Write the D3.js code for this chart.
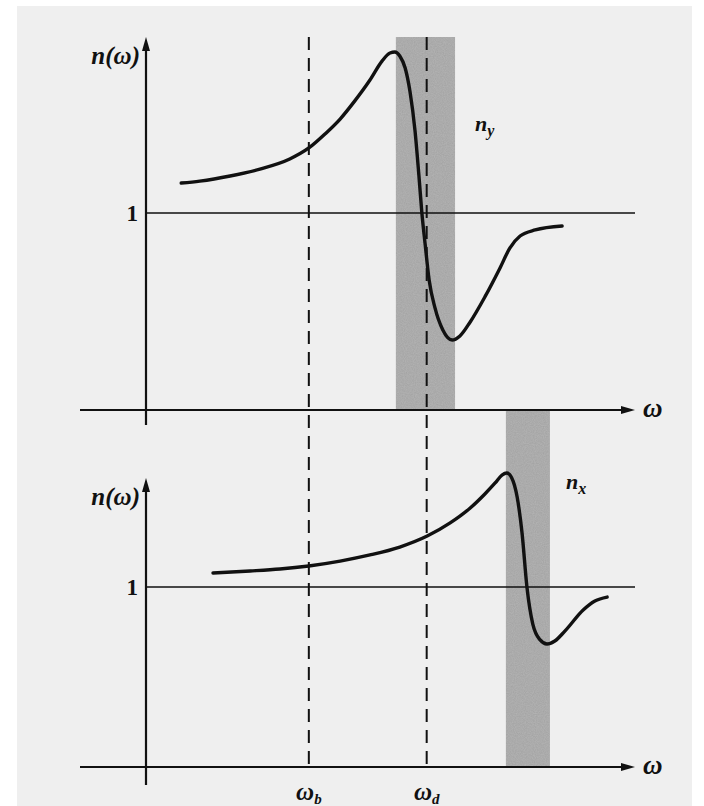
<!DOCTYPE html>
<html><head><meta charset="utf-8">
<script src="https://cdn.jsdelivr.net/npm/d3@7"></script>
<style>body{margin:0;background:#fff}svg{display:block}</style>
</head><body>
<script>
// ---- data (omega in arbitrary units, n relative) ----
const topCurveOmega = [0.72,1.10,1.72,2.33,2.94,3.33,3.66,3.97,4.27,4.58,4.83,4.99,5.09,5.19,5.30,5.40,5.50,5.58,5.64,5.71,5.79,5.91,6.07,6.26,6.42,6.63,6.93,7.24,7.44,7.65,7.96,8.51];
const topCurveN     = [1.152,1.162,1.188,1.223,1.274,1.330,1.401,1.477,1.569,1.675,1.772,1.812,1.817,1.797,1.736,1.614,1.421,1.193,1.005,0.838,0.660,0.518,0.406,0.355,0.376,0.447,0.574,0.721,0.822,0.883,0.914,0.934];
const botCurveOmega = [1.37,2.13,2.74,3.33,3.97,4.58,5.19,5.75,6.22,6.63,6.93,7.14,7.28,7.38,7.48,7.59,7.69,7.79,7.91,8.06,8.20,8.36,8.57,8.94,9.18,9.43];
const botCurveN     = [1.078,1.089,1.100,1.117,1.144,1.178,1.222,1.283,1.356,1.439,1.517,1.578,1.622,1.633,1.606,1.500,1.300,1.000,0.794,0.706,0.683,0.700,0.756,0.872,0.922,0.944];
const topBand = [5.11, 6.32];
const botBand = [7.36, 8.26];
const markers = [{name:"b", omega:3.33},{name:"d", omega:5.74}];
const panelLabels = ["y","x"];

const W=704,H=806;
const svg=d3.select("body").append("svg").attr("width",W).attr("height",H);
const defs=svg.append("defs");
const f=defs.append("filter").attr("id","grain").attr("x",0).attr("y",0).attr("width",1).attr("height",1);
f.append("feTurbulence").attr("type","fractalNoise").attr("baseFrequency",0.9).attr("numOctaves",2).attr("seed",3).attr("result","n");
f.append("feColorMatrix").attr("in","n").attr("type","matrix")
  .attr("values","0 0 0 0 0.64  0 0 0 0 0.64  0 0 0 0 0.64  0 0 0 0.35 0").attr("result","g");
f.append("feComposite").attr("in","g").attr("in2","SourceGraphic").attr("operator","in").attr("result","gc");
const fm=f.append("feMerge"); fm.append("feMergeNode").attr("in","SourceGraphic"); fm.append("feMergeNode").attr("in","gc");

svg.append("rect").attr("x",17).attr("y",6).attr("width",675).attr("height",800).attr("fill","#efefef");

const x=d3.scaleLinear().domain([0,10]).range([146,635]);
const yTop=d3.scaleLinear().domain([0,1]).range([410,213]);
const yBot=d3.scaleLinear().domain([0,1]).range([767,587]);

const ink="#111";
// bands
svg.append("rect").attr("x",x(topBand[0])).attr("y",37).attr("width",x(topBand[1])-x(topBand[0])).attr("height",yTop(0)-37).attr("fill","#a2a2a2").attr("filter","url(#grain)");
svg.append("rect").attr("x",x(botBand[0])).attr("y",yTop(0)+1).attr("width",x(botBand[1])-x(botBand[0])).attr("height",yBot(0)-yTop(0)-1).attr("fill","#a2a2a2").attr("filter","url(#grain)");

// dashed markers
markers.forEach(m=>{
  svg.append("line").attr("x1",x(m.omega)).attr("x2",x(m.omega)).attr("y1",37).attr("y2",yBot(0))
    .attr("stroke",ink).attr("stroke-width",2).attr("stroke-dasharray","13,8");
  const t=svg.append("text").attr("x",x(m.omega)).attr("y",800).attr("text-anchor","middle")
    .attr("font-family","Liberation Serif").attr("font-style","italic").attr("font-weight","bold").attr("font-size",25).attr("fill",ink);
  t.append("tspan").text("ω");
  t.append("tspan").attr("font-size",15).attr("dy",4).text(m.name);
});

function panel(ys, yTopEnd, yBottomEnd, label, labelPos){
  svg.append("line").attr("x1",x(0)).attr("x2",x(10)).attr("y1",ys(1)).attr("y2",ys(1)).attr("stroke",ink).attr("stroke-width",1.6);
  svg.append("line").attr("x1",80).attr("x2",x(10)-6).attr("y1",ys(0)).attr("y2",ys(0)).attr("stroke",ink).attr("stroke-width",2.2);
  svg.append("path").attr("d",`M${x(10)},${ys(0)} L${x(10)-14},${ys(0)-4} L${x(10)-14},${ys(0)+4} Z`).attr("fill",ink);
  svg.append("line").attr("x1",x(0)).attr("x2",x(0)).attr("y1",yTopEnd+6).attr("y2",yBottomEnd).attr("stroke",ink).attr("stroke-width",2.2);
  svg.append("path").attr("d",`M${x(0)},${yTopEnd} L${x(0)-4},${yTopEnd+14} L${x(0)+4},${yTopEnd+14} Z`).attr("fill",ink);
  svg.append("text").attr("x",x(0)-8).attr("y",ys(1)+8).attr("text-anchor","end")
    .attr("font-family","Liberation Serif").attr("font-weight","bold").attr("font-size",23).attr("fill",ink).text("1");
  svg.append("text").attr("x",x(10)+8).attr("y",ys(0)+7)
    .attr("font-family","Liberation Serif").attr("font-style","italic").attr("font-weight","bold").attr("font-size",27).attr("fill",ink).text("ω");
  svg.append("text").attr("x",x(0)-6).attr("y",yTopEnd+27).attr("text-anchor","end")
    .attr("font-family","Liberation Serif").attr("font-style","italic").attr("font-weight","bold").attr("font-size",25).attr("fill",ink).text("n(ω)");
  const t=svg.append("text").attr("x",labelPos[0]).attr("y",labelPos[1])
    .attr("font-family","Liberation Serif").attr("font-style","italic").attr("font-weight","bold").attr("font-size",22).attr("fill",ink);
  t.append("tspan").text("n");
  t.append("tspan").attr("font-size",16).attr("dy",5).text(label);
}
panel(yTop, 37, 425, panelLabels[0], [475,131]);
panel(yBot, 478, 785, panelLabels[1], [566,489]);

const line=(ys)=>d3.line().x(d=>x(d[0])).y(d=>ys(d[1])).curve(d3.curveMonotoneX);
svg.append("path").datum(d3.zip(topCurveOmega,topCurveN)).attr("d",line(yTop)).attr("fill","none").attr("stroke",ink).attr("stroke-width",3.4).attr("stroke-linecap","round");
svg.append("path").datum(d3.zip(botCurveOmega,botCurveN)).attr("d",line(yBot)).attr("fill","none").attr("stroke",ink).attr("stroke-width",3.4).attr("stroke-linecap","round");
</script>
</body></html>
